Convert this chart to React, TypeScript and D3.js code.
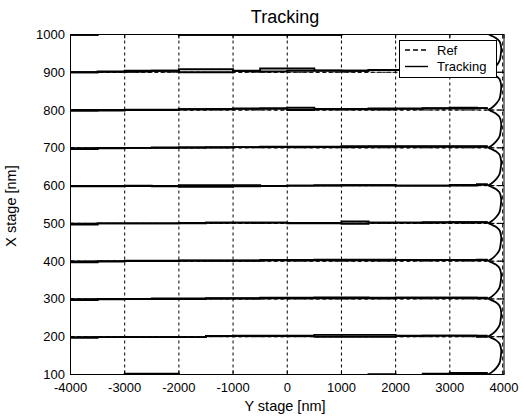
import React from "react";
import { scaleLinear, line, curveStepAfter, curveCatmullRom } from "d3";

// scan levels (X stage, nm) and axis ticks
const levels = [100, 200, 300, 400, 500, 600, 700, 800, 900, 1000];
const xTicks = [-4000, -3000, -2000, -1000, 0, 1000, 2000, 3000, 4000];
const yTicks = [100, 200, 300, 400, 500, 600, 700, 800, 900, 1000];

// Y stage positions where the tracking offset changes
const segStarts = [-4000, -3500, -3000, -2500, -2000, -1500, -1000, -500, 0, 500, 1000, 1500, 2000, 2500, 3000, 3500];
const scanEnd = 3700;
const refEnd = 3975;

// tracking offset from the reference level (nm), one row per level
const fwdOffsets = [
  [-6, -6, 2, 2, -6, -6, -6, -6, -6, -6, -6, 1, -6, 2, 2, 2],
  [-3, -1, -1, -1, -1, 2, 2, 2, 2, 0, 0, 0, 2, 3, 3, 0],
  [-3, -1, 0, 0, 0, 1, 1, 2, 2, 2, 2, 2, 3, 3, 3, 2],
  [-3, -1, 0, 0, 1, 1, 1, 2, 2, 2, 2, 2, 3, 3, 3, 3],
  [-3, 0, 0, 0, 0, 2, 2, 2, 0, 0, -1, 2, 2, 2, 3, 3],
  [-2, -2, -1, -2, -3, -3, -2, -1, 0, 0, 1, 1, 0, 0, 0, 3],
  [-3, -1, 0, 0, 1, 1, 2, 2, 2, 2, 2, 3, 3, 3, 3, 3],
  [-2, -1, 0, 0, 2, 2, 3, 4, 0, 2, 2, 2, 3, 4, 4, 5],
  [0, 1, 2, 4, 0, 0, 3, 2, 4, 4, 4, 6, 6, 5, 3, 1],
  [-1, 6, 6, 6, -1, -1, -1, -1, -1, -1, 6, 6, 6, 6, 6, 6],
];
const retOffsets = [
  [-6, -6, -6, 1, -6, -6, -6, -6, -6, -6, -6, -6, -6, -6, 4, 4],
  [-1, -1, -1, -1, -1, 2, 3, 3, 3, 5, 5, 5, 3, 3, 3, 3],
  [-1, 0, 0, 1, 1, 2, 2, 3, 3, 4, 4, 3, 3, 3, 3, 3],
  [-1, 0, 1, 1, 2, 2, 2, 3, 3, 4, 4, 4, 3, 3, 3, 4],
  [-1, 0, 0, 0, 1, 2, 2, 2, 1, 1, 5, 2, 2, 3, 3, 3],
  [-1, -1, 0, -1, 1, 1, 1, -1, 0, 1, 1, 1, 0, 0, 2, 3],
  [-1, 0, 0, 1, 1, 2, 2, 3, 3, 3, 4, 4, 4, 4, 4, 4],
  [0, 0, 1, 1, 2, 3, 4, 4, 6, 3, 3, 4, 4, 5, 6, 5],
  [0, 2, 4, 4, 8, 8, 4, 10, 10, 5, 4, 6, 6, 5, 3, 1],
  [-1, 6, 6, 6, -1, -1, -1, -1, -1, -1, 6, 6, 6, 6, 6, 6],
];

// step-over curve at the end of each line (Y stage, rise above level)
const turnY = [3700, 3764, 3856, 3917, 3940, 3948, 3917, 3850, 3764, 3720];
const turnRise = [0, 5, 17, 30, 47, 65, 82, 91, 97, 100];

const font = "'Liberation Sans', Arial, sans-serif";

export default function App() {
  const width = 523,
    height = 418;
  const left = 70.5,
    right = 504,
    top = 34.5,
    bottom = 374.5;

  const x = scaleLinear().domain([-4000, 4000]).range([left, right]);
  const y = scaleLinear().domain([100, 1000]).range([bottom, top]);

  const stepLine = line<[number, number]>()
    .x(d => x(d[0]))
    .y(d => y(d[1]))
    .curve(curveStepAfter);
  const smoothLine = line<[number, number]>()
    .x(d => x(d[0]))
    .y(d => y(d[1]))
    .curve(curveCatmullRom);

  const trace = (lvl: number, offs: number[]) => {
    const pts: [number, number][] = segStarts.map((s, i) => [s, lvl + offs[i]]);
    pts.push([scanEnd, lvl + offs[offs.length - 1]]);
    return stepLine(pts) || "";
  };

  return (
    <svg width={width} height={height} style={{ position: "absolute", left: 0, top: 0, background: "#fff" }}>
      <defs>
        <clipPath id="plot">
          <rect x={left} y={top} width={right - left} height={bottom - top} />
        </clipPath>
      </defs>
      <rect x={0} y={0} width={width} height={height} fill="#fff" />

      {/* grid */}
      {xTicks.slice(1, -1).map(t => (
        <line key={t} x1={x(t)} x2={x(t)} y1={top} y2={bottom} stroke="#000" strokeDasharray="3,3" />
      ))}
      {yTicks.slice(1, -1).map(t => (
        <line key={t} x1={left} x2={right} y1={y(t)} y2={y(t)} stroke="#000" strokeDasharray="3,3" />
      ))}

      <g clipPath="url(#plot)" fill="none">
        {/* reference */}
        {levels.map(l => (
          <line key={l} x1={x(-4000)} x2={x(refEnd)} y1={y(l)} y2={y(l)} stroke="#000" strokeDasharray="4,3" />
        ))}
        <line x1={x(refEnd)} x2={x(refEnd)} y1={y(100)} y2={y(1000)} stroke="#000" strokeDasharray="4,3" />

        {/* tracking */}
        {levels.map((l, i) => (
          <g key={l} stroke="#000" strokeWidth={1.9}>
            <path d={trace(l, fwdOffsets[i])} />
            <path d={trace(l, retOffsets[i])} />
            {l < 1000 && (
              <path d={smoothLine(turnY.map((t, j) => [t, l + turnRise[j]] as [number, number])) || ""} strokeWidth={1.8} />
            )}
          </g>
        ))}
      </g>

      {/* axes box and ticks */}
      <rect x={left} y={top} width={right - left} height={bottom - top} fill="none" stroke="#000" />
      {xTicks.map(t => (
        <g key={t}>
          <line x1={x(t)} x2={x(t)} y1={bottom} y2={bottom - 4} stroke="#000" />
          <line x1={x(t)} x2={x(t)} y1={top} y2={top + 4} stroke="#000" />
          <text x={x(t)} y={392} textAnchor="middle" fontFamily={font} fontSize={13}>
            {t}
          </text>
        </g>
      ))}
      {yTicks.map(t => (
        <g key={t}>
          <line x1={left} x2={left + 4} y1={y(t)} y2={y(t)} stroke="#000" />
          <line x1={right} x2={right - 4} y1={y(t)} y2={y(t)} stroke="#000" />
          <text x={65} y={y(t)} dy="0.35em" textAnchor="end" fontFamily={font} fontSize={13}>
            {t}
          </text>
        </g>
      ))}

      <text x={285} y={23} textAnchor="middle" fontFamily={font} fontSize={18}>
        Tracking
      </text>
      <text x={285} y={411} textAnchor="middle" fontFamily={font} fontSize={14.5}>
        Y stage [nm]
      </text>
      <text transform="translate(16,206) rotate(-90)" textAnchor="middle" fontFamily={font} fontSize={14.5}>
        X stage [nm]
      </text>

      {/* legend */}
      <g>
        <rect x={399.5} y={40.5} width={97} height={37} fill="#fff" stroke="#000" />
        <line x1={405} x2={428} y1={50} y2={50} stroke="#000" strokeWidth={1.4} strokeDasharray="5,3" />
        <text x={437} y={54.5} fontFamily={font} fontSize={13}>
          Ref
        </text>
        <line x1={405} x2={428} y1={66.5} y2={66.5} stroke="#000" strokeWidth={1.4} />
        <text x={437} y={71} fontFamily={font} fontSize={13}>
          Tracking
        </text>
      </g>
    </svg>
  );
}
